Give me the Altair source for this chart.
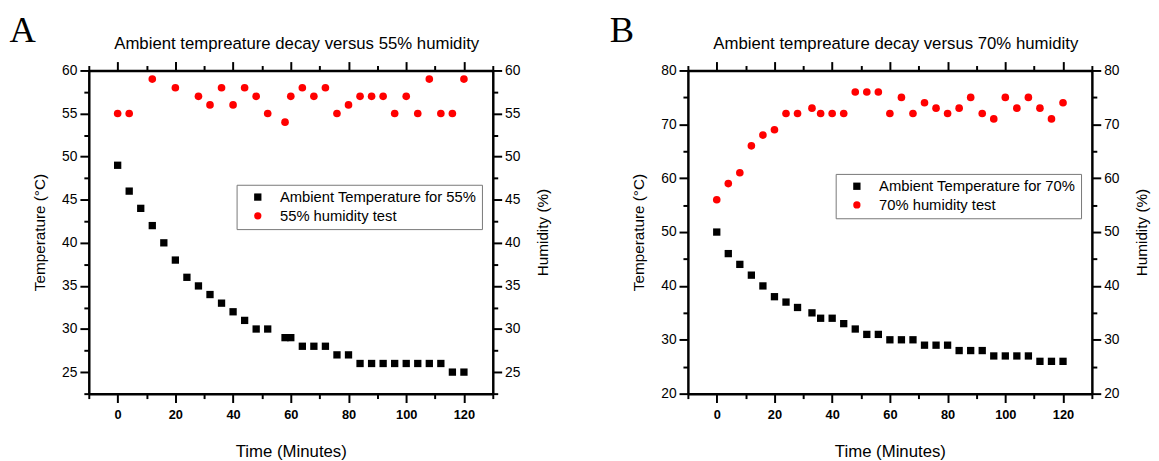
import altair as alt
import pandas as pd

FONT = "Liberation Sans"
SERIF = "Liberation Serif"

# ---- Panel A (55% humidity) ----
a_temp_time = [0, 4, 8, 12, 16, 20, 24, 28, 32, 36, 40, 44, 48, 52, 58, 60,
               64, 68, 72, 76, 80, 84, 88, 92, 96, 100, 104, 108, 112, 116, 120]
a_temp = [49, 46, 44, 42, 40, 38, 36, 35, 34, 33, 32, 31, 30, 30, 29, 29,
          28, 28, 28, 27, 27, 26, 26, 26, 26, 26, 26, 26, 26, 25, 25]
a_hum_time = [0, 4, 12, 20, 28, 32, 36, 40, 44, 48, 52, 58, 60, 64, 68, 72,
              76, 80, 84, 88, 92, 96, 100, 104, 108, 112, 116, 120]
a_hum = [55, 55, 59, 58, 57, 56, 58, 56, 58, 57, 55, 54, 57, 58, 57, 58,
         55, 56, 57, 57, 57, 55, 57, 55, 59, 55, 55, 59]

# ---- Panel B (70% humidity) ----
b_time = [0, 4, 8, 12, 16, 20, 24, 28, 33, 36, 40, 44, 48, 52, 56, 60,
          64, 68, 72, 76, 80, 84, 88, 92, 96, 100, 104, 108, 112, 116, 120]
b_temp = [50, 46, 44, 42, 40, 38, 37, 36, 35, 34, 34, 33, 32, 31, 31, 30,
          30, 30, 29, 29, 29, 28, 28, 28, 27, 27, 27, 27, 26, 26, 26]
b_hum = [56, 59, 61, 66, 68, 69, 72, 72, 73, 72, 72, 72, 76, 76, 76, 72,
         75, 72, 74, 73, 72, 73, 75, 72, 71, 75, 73, 75, 73, 71, 74]

x_ticks = list(range(-10, 131, 10))
a_y_ticks = [22.5 + 2.5 * i for i in range(16)]
b_y_ticks = list(range(20, 81, 5))

W, H = 410, 328

AX = dict(domainColor="black", domainWidth=2.5, tickColor="black", tickWidth=2,
          labelFont=FONT, titleFont=FONT, labelColor="black", titleColor="black",
          grid=False, titleFontWeight="normal")


def panel(letter, title, pct, t_time, t_vals, h_time, h_vals, ydom, yticks, major,
          leg_x, leg_y):
    temp_label = f"Ambient Temperature for {pct}%"
    hum_label = f"{pct}% humidity test"
    dft = pd.DataFrame({"time": t_time, "value": t_vals, "series": temp_label})
    dfh = pd.DataFrame({"time": h_time, "value": h_vals, "series": hum_label})
    xscale = alt.Scale(domain=[-10, 130], nice=False, zero=False)
    yscale = alt.Scale(domain=ydom, nice=False, zero=False)
    leg = dict(orient="none", legendX=leg_x, legendY=leg_y, title=None,
               strokeColor="#777", fillColor="white", padding=5, symbolOffset=9,
               labelFont=FONT, labelFontSize=15, labelColor="black", labelLimit=400,
               symbolSize=55, symbolStrokeWidth=0, rowPadding=3, labelOffset=15)
    dom = [temp_label, hum_label]
    color = alt.Color("series:N", scale=alt.Scale(domain=dom, range=["black", "red"]),
                      legend=alt.Legend(**leg))
    shape = alt.Shape("series:N", scale=alt.Scale(domain=dom, range=["square", "circle"]),
                      legend=alt.Legend(**leg))
    xmaj = "datum.value % 20 == 0"
    ymaj = f"datum.value % {major} == 0"
    xt = {"condition": {"test": xmaj, "value": 9}, "value": 5}
    yt = {"condition": {"test": ymaj, "value": 9}, "value": 5}

    temp = alt.Chart(dft).mark_point(filled=True, size=55, opacity=1).encode(
        x=alt.X("time:Q", scale=xscale,
                axis=alt.Axis(orient="bottom", values=x_ticks,
                              labelExpr=f"{xmaj} ? datum.label : ''", tickSize=xt,
                              labelFontWeight="bold", labelFontSize=13,
                              title="Time (Minutes)", titleFontSize=17,
                              labelPadding=6, titlePadding=23, **AX)),
        y=alt.Y("value:Q", scale=yscale,
                axis=alt.Axis(orient="left", values=yticks,
                              labelExpr=f"{ymaj} ? datum.label : ''", tickSize=yt,
                              labelFontSize=14, titleFontSize=15.5,
                              title="Temperature (°C)", labelPadding=3, titlePadding=14, **AX)),
        color=color, shape=shape,
    )
    hum = alt.Chart(dfh).mark_point(filled=True, size=60, opacity=1).encode(
        x=alt.X("time:Q", scale=xscale,
                axis=alt.Axis(orient="top", values=x_ticks, labels=False, title=None,
                              tickSize=xt, **AX)),
        y=alt.Y("value:Q", scale=yscale,
                axis=alt.Axis(orient="right", values=yticks,
                              labelExpr=f"{ymaj} ? datum.label : ''", tickSize=yt,
                              labelFontSize=14, titleFontSize=15.5, titleAngle=270,
                              titleBaseline="top",
                              title="Humidity (%)", labelPadding=3, titlePadding=16, **AX)),
        color=color, shape=shape,
    )
    let = alt.Chart(pd.DataFrame({"label": [letter]})).mark_text(
        font=SERIF, fontSize=37, align="center", baseline="alphabetic", color="black"
    ).encode(x=alt.value(-67), y=alt.value(-29), text="label:N")
    ttl = alt.Chart(pd.DataFrame({"label": [title]})).mark_text(
        font=FONT, fontSize=17, align="center", baseline="middle", color="black"
    ).encode(x=alt.value(W / 2 + 6), y=alt.value(-27), text="label:N")

    return alt.layer(temp, hum, let, ttl).resolve_scale(y="independent").resolve_axis(
        x="independent", y="independent").properties(width=W, height=H)


pa = panel("A", "Ambient tempreature decay versus 55% humidity", 55,
           a_temp_time, a_temp, a_hum_time, a_hum, [22.5, 60], a_y_ticks, 5, 150, 116)
pb = panel("B", "Ambient tempreature decay versus 70% humidity", 70,
           b_time, b_temp, b_time, b_hum, [20, 80], b_y_ticks, 10, 150, 105)

chart = alt.hconcat(pa, pb, spacing=58).resolve_scale(
    color="independent", shape="independent"
).properties(padding={"left": 1, "top": 0, "right": 0, "bottom": 0}).configure_view(
    stroke=None
).configure(background="white")

chart.save("out.html", embed_options={"renderer": "svg", "actions": False})
